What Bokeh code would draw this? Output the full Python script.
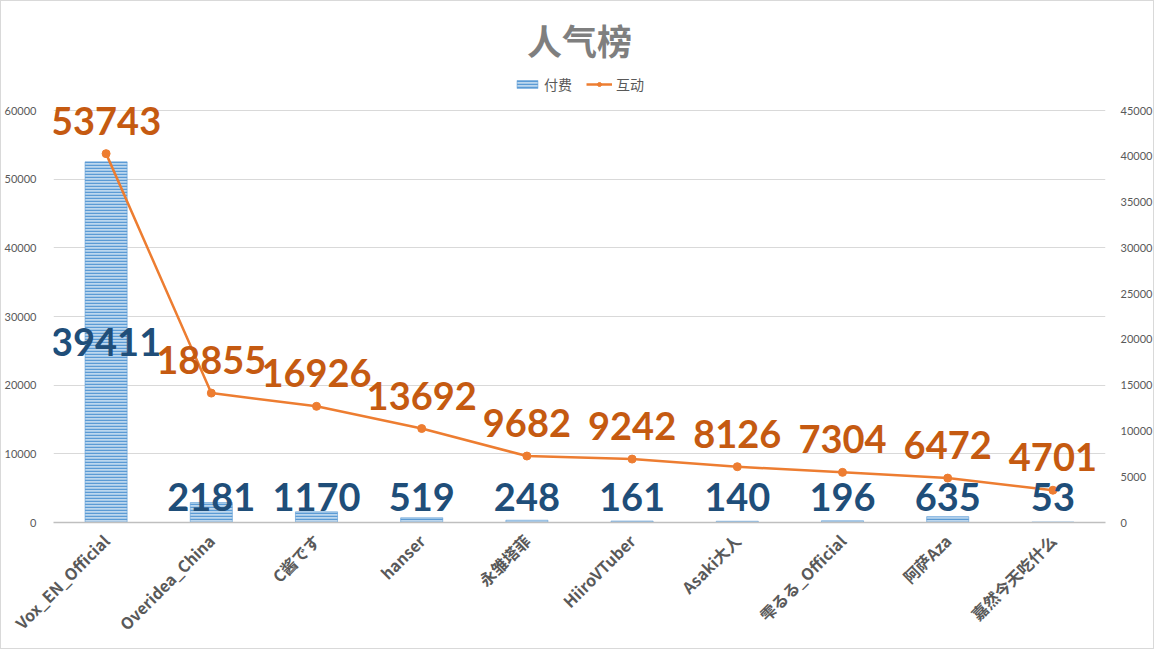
import math
from bokeh.plotting import figure
from bokeh.models import (FactorRange, Range1d, LinearAxis, FixedTicker, Legend,
                          LegendItem)
from bokeh.core.properties import value
from bokeh.embed import file_html
from bokeh.resources import INLINE

# ---- data ----
names = ["Vox_EN_Official", "Overidea_China", "C酱です", "hanser", "永雏塔菲",
         "HiiroVTuber", "Asaki大人", "雫るる_Official", "阿萨Aza", "嘉然今天吃什么"]
pay = [39411, 2181, 1170, 519, 248, 161, 140, 196, 635, 53]            # 付费 (bars)
interact = [53743, 18855, 16926, 13692, 9682, 9242, 8126, 7304, 6472, 4701]  # 互动 (line)
left_ticks = [0, 10000, 20000, 30000, 40000, 50000, 60000]
right_ticks = [0, 5000, 10000, 15000, 20000, 25000, 30000, 35000, 40000, 45000]

TXT = "#595959"
CJK = "Noto Sans CJK SC"

p = figure(width=1154, height=649,
           x_range=FactorRange(factors=names, range_padding=0),
           y_range=Range1d(0, 66000),
           output_backend="svg", toolbar_location=None,
           min_border_left=48, min_border_right=48,
           min_border_top=68, min_border_bottom=128)
p.extra_y_ranges = {"right": Range1d(0, 49500)}
p.styles = {"border": "1px solid #D9D9D9"}
p.outline_line_color = None
p.background_fill_color = "white"
p.border_fill_color = "white"

# title
p.title.text = "人气榜"
p.title.align = "center"
p.title.text_font = CJK
p.title.text_font_size = "35px"
p.title.text_font_style = "bold"
p.title.text_color = "#7F7F7F"

# bars
bars = p.vbar(x=names, top=pay, width=0.4, y_range_name="right",
              fill_color="#BDD7EE", hatch_pattern="horizontal_line",
              hatch_color="#5B9BD5", hatch_scale=3, hatch_weight=1.5,
              line_color="#5B9BD5", line_width=0.6)

# line
ln = p.line(x=names, y=interact, line_color="#ED7D31", line_width=2.5)
dots = p.scatter(x=names, y=interact, size=8, fill_color="#ED7D31", line_color="#ED7D31")

# bar labels (centered in bar, kept clear of the axis)
clamp = 2774
bar_label_y = [max(v / 2, clamp) for v in pay]
p.text(x=names, y=bar_label_y, text=[str(v) for v in pay], y_range_name="right",
       text_font=value("Lato"), text_font_style="bold", text_font_size="38px",
       text_color="#1F4E79", text_align="center", text_baseline="middle")

# line labels (above points)
p.text(x=names, y=interact, text=[str(v) for v in interact],
       text_font=value("Lato"), text_font_style="bold", text_font_size="38px",
       text_color="#C55A11", text_align="center", text_baseline="middle",
       y_offset=-33)

# grid
p.xgrid.grid_line_color = None
p.ygrid.ticker = FixedTicker(ticks=left_ticks)
p.ygrid.grid_line_color = "#D9D9D9"
p.ygrid.grid_line_width = 1

# left axis
p.yaxis.ticker = FixedTicker(ticks=left_ticks)
for ax in [p.yaxis[0]]:
    ax.axis_line_color = None
    ax.major_tick_line_color = None
    ax.minor_tick_line_color = None
    ax.major_label_text_font = "Lato"
    ax.major_label_text_font_size = "11px"
    ax.major_label_text_color = TXT
    ax.major_label_standoff = 11

rax = LinearAxis(y_range_name="right", ticker=FixedTicker(ticks=right_ticks))
rax.axis_line_color = None
rax.major_tick_line_color = None
rax.minor_tick_line_color = None
rax.major_label_text_font = "Lato"
rax.major_label_text_font_size = "11px"
rax.major_label_text_color = TXT
rax.major_label_standoff = 9
p.add_layout(rax, "right")

# x axis
xa = p.xaxis[0]
xa.major_label_orientation = math.pi / 4
xa.major_label_text_font = CJK
xa.major_label_text_font_style = "bold"
xa.major_label_text_font_size = "16px"
xa.major_label_text_color = TXT
xa.axis_line_color = "#BFBFBF"
xa.axis_line_width = 1.5
xa.major_tick_line_color = None
xa.minor_tick_line_color = None
xa.major_label_standoff = 9

legend = Legend(items=[LegendItem(label="付费", renderers=[bars]),
                       LegendItem(label="互动", renderers=[ln, dots])],
                orientation="horizontal", location="top_center",
                border_line_color=None, background_fill_alpha=0,
                label_text_font=CJK, label_text_font_size="14px",
                label_text_color=TXT, glyph_width=26, glyph_height=10,
                spacing=14, padding=0, margin=5, label_standoff=4,
                label_height=16)
p.add_layout(legend, "center")

open("out.html", "w").write(file_html(p, INLINE))
